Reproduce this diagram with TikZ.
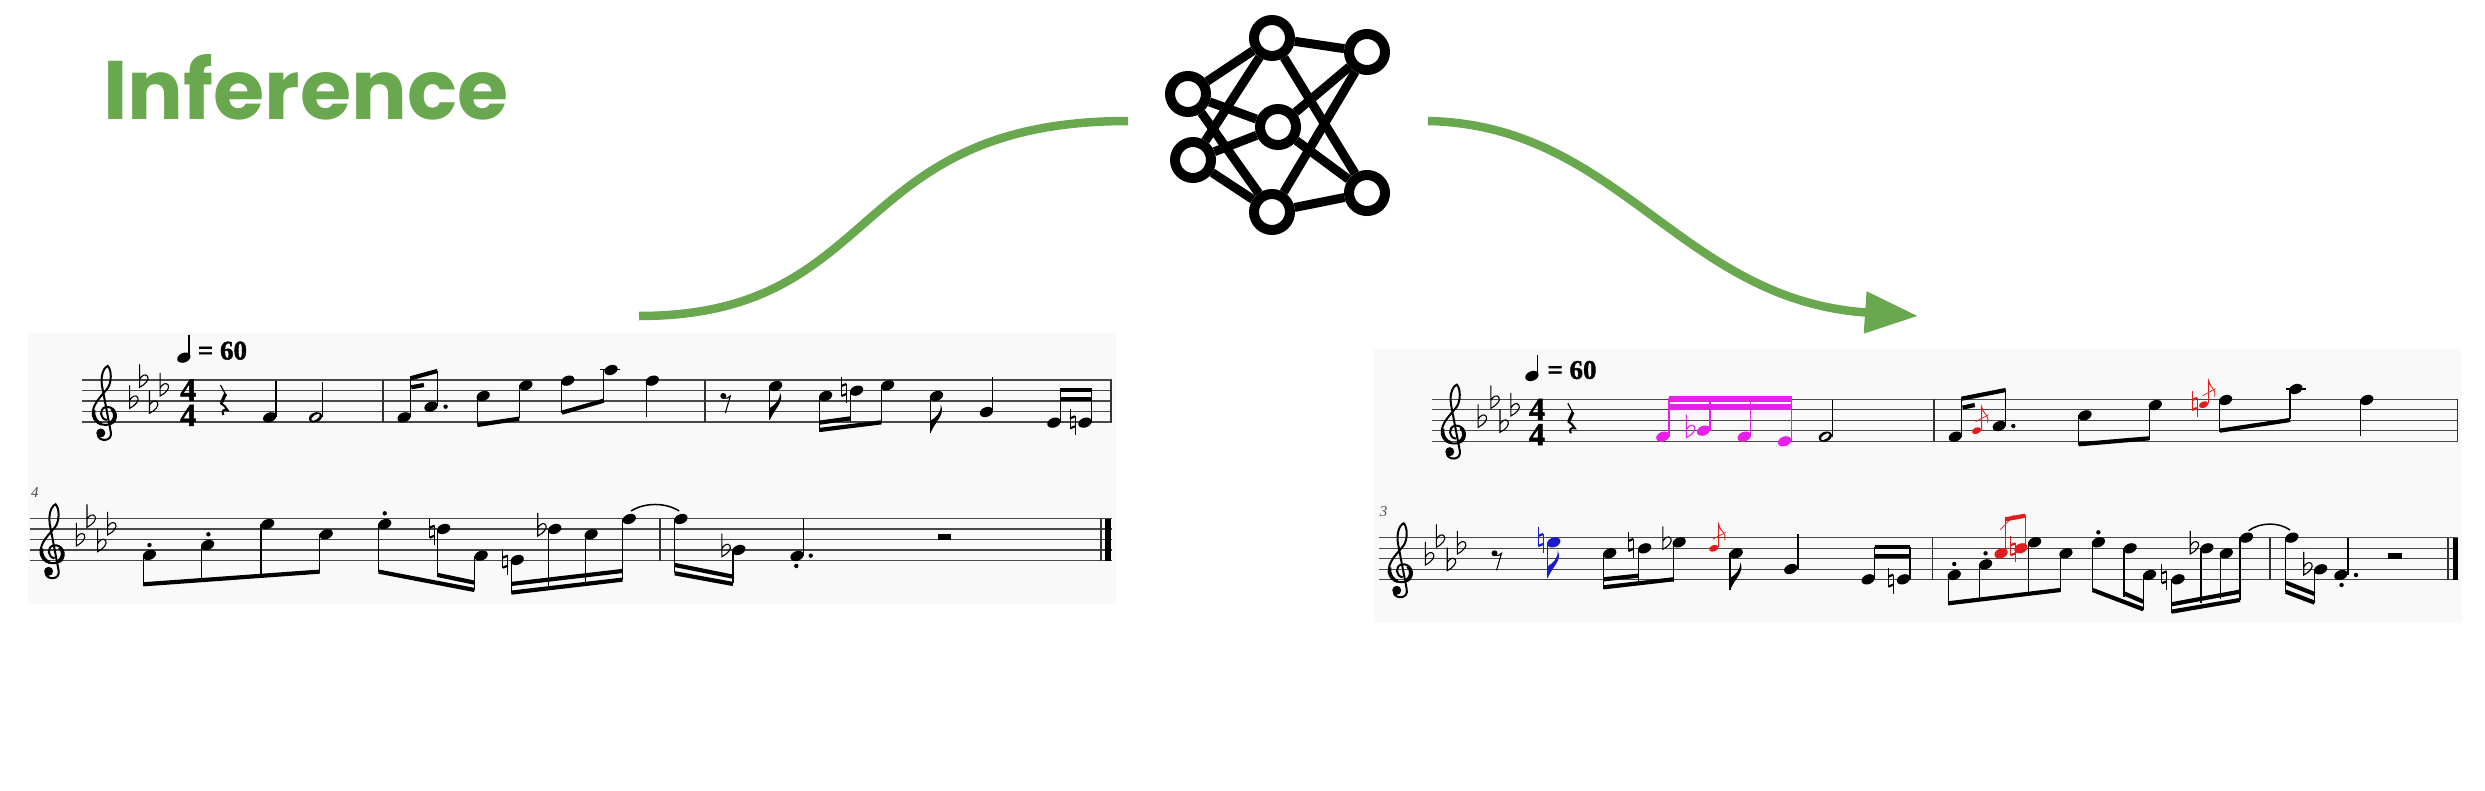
\documentclass[tikz,border=0pt]{standalone}
\usepackage{fontspec}
\usetikzlibrary{arrows.meta}
\newfontfamily\titlefont{Poppins}
\newfontfamily\scorefont{Liberation Serif}[BoldFeatures={FakeBold=1.5}]
\definecolor{inferencegreen}{HTML}{6AA84F}
\definecolor{panelgray}{HTML}{F9F9F9}
\definecolor{staffgray}{HTML}{484848}
\definecolor{gracered}{HTML}{E21C1C}
\definecolor{runmagenta}{HTML}{E81FE8}
\definecolor{fixblue}{HTML}{1A1AD0}
\tikzset{
  staffline/.style={staffgray,line width=1.25pt},
  stemline/.style={line width=1.25pt},
  barline/.style={black!80,line width=1.7pt},
  beamline/.style={line width=4.2pt},
  neuron/.style={circle,draw,fill=white,line width=10pt,minimum size=36pt,inner sep=0pt},
  synapse/.style={line width=9pt},
  tempotext/.style={anchor=west,inner sep=0pt,font=\scorefont\bfseries\fontsize{27}{27}\selectfont},
  timesig/.style={inner sep=0pt,align=center,font=\scorefont\bfseries\fontsize{32}{25.3}\selectfont},
  measurenum/.style={inner sep=0pt,text=black!70,font=\scorefont\itshape\fontsize{15}{15}\selectfont},
  flow/.style={inferencegreen,line width=8.5pt},
  crop a/.style={shift={(0,310)},x=0.3954pt,y=-0.3333pt},
  crop b/.style={shift={(600,310)},x=0.3444pt,y=-0.3333pt},
  crop c/.style={shift={(1360,340)},x=0.3635pt,y=-0.3333pt},
  crop d/.style={shift={(1920,340)},x=0.3603pt,y=-0.3333pt},
}
\newcommand{\nhead}[2][black]{\fill[#1,shift={(#2)},rotate=22] (0,0) ellipse[x radius=6.9pt,y radius=4.8pt];}
\newcommand{\hhead}[1]{\nhead{#1}\fill[panelgray,shift={(#1)},rotate=35] (0,0) ellipse[x radius=5pt,y radius=2.2pt];}
\newcommand{\heads}[2][black]{\foreach \nx/\ny in {#2} {\nhead[#1]{\nx,\ny}}}
\newcommand{\stems}[2][black]{\foreach \sx/\sa/\sb in {#2} {\draw[stemline,#1] (\sx,\sa)--(\sx,\sb);}}
\newcommand{\beams}[2][black]{\foreach \ax/\ay/\cx/\cy in {#2} {\draw[beamline,#1] (\ax,\ay)--(\cx,\cy);}}
\newcommand{\dotsat}[1]{\foreach \dx/\dy in {#1} {\fill (\dx,\dy) circle (2.2pt);}}
\newcommand{\flatsym}[2][black]{\begin{scope}[shift={(#2)},x=1pt,y=-1pt]
  \draw[#1,line width=1.1pt] (0,-23)--(0,0) .. controls (6,-3) and (10,-8) .. (8,-11) .. controls (6,-14) and (2,-12) .. (0,-8);
\end{scope}}
\newcommand{\natsym}[2][black]{\begin{scope}[shift={(#2)},x=1pt,y=-1pt]
  \draw[#1,line width=1pt] (-2.5,-13)--(-2.5,6) (2.5,-6)--(2.5,13);
  \draw[#1,line width=2.2pt] (-2.5,-4)--(2.5,-6) (-2.5,6)--(2.5,4);
\end{scope}}
\newcommand{\qrest}[1]{\begin{scope}[shift={(#1)},x=1pt,y=-1pt]
  \draw[line width=1.2pt] (-3,-15)--(3,-4);
  \draw[line width=3.2pt] (2,-6)--(-2,3);
  \draw[line width=2pt] (-3,3) .. controls (0,5) and (3,7) .. (4,10) .. controls (0,9) and (-2,11) .. (0,15);
\end{scope}}
\newcommand{\erest}[1]{\begin{scope}[shift={(#1)},x=1pt,y=-1pt]
  \fill (0,0) circle (3pt);
  \draw[line width=1.1pt] (0,2) .. controls (3,3) and (5,2) .. (7,0) -- (2,17);
\end{scope}}
\newcommand{\eflag}[2][black]{\begin{scope}[shift={(#2)},x=1pt,y=-1pt]
  \fill[#1] (0,0) -- (0,-12) .. controls (5,-15) and (11,-20) .. (10,-28) .. controls (15,-18) and (5,-12) .. (0,0);
\end{scope}}
\newcommand{\gracenote}[1]{\begin{scope}[shift={(#1)},x=1pt,y=-1pt,gracered]
  \fill[rotate=22] (0,0) ellipse[x radius=4.8pt,y radius=3.2pt];
  \draw[line width=.9pt] (5,-1)--(5,-24) .. controls (6,-17) and (13,-16) .. (11,-8);
  \draw[line width=.7pt] (-1,-9)--(12,-16);
\end{scope}}
\newcommand{\trebleclef}[1]{\begin{scope}[shift={(#1)},x=1pt,y=-1pt]
  \draw[line width=2pt] (2,8) .. controls (-5,7) and (-6,-3) .. (1,-5)
    .. controls (10,-6) and (14,4) .. (9,10) .. controls (4,15) and (-10,14) .. (-12,3)
    .. controls (-13,-8) and (-3,-16) .. (3,-24) .. controls (7,-30) and (7,-42) .. (3,-46)
    .. controls (-2,-44) and (-5,-34) .. (-2,-22) -- (6,20) .. controls (8,30) and (-6,30) .. (-7,23);
  \draw[line width=3.2pt] (7,-3) .. controls (12,2) and (10,8) .. (6,11);
  \draw[line width=3.2pt] (-11,-2) .. controls (-12,5) and (-8,11) .. (-3,12);
  \fill (-4,21) circle (4.5pt);
\end{scope}}
\newcommand{\stafflines}[3]{\foreach \k in {0,...,4} {\draw[staffline] (#1,#3+10.5*\k)--(#2,#3+10.5*\k);}}
\begin{document}
\begin{tikzpicture}[x=1pt,y=-1pt]
  \useasboundingbox (0,0) rectangle (2485,790);
  % title
  \node[inner sep=0pt,anchor=base west,text=inferencegreen,font=\titlefont\bfseries\fontsize{83}{83}\selectfont] (title) at (103,119) {Inference};

  % network
  \node[neuron] (ntop) at (1272,38) {};
  \node[neuron] (ntopr) at (1367,52) {};
  \node[neuron] (nlefta) at (1188,94) {};
  \node[neuron] (nleftb) at (1193,160) {};
  \node[neuron] (ncen) at (1278,127) {};
  \node[neuron] (nbot) at (1272,212) {};
  \node[neuron] (nbotr) at (1367,193) {};
  \foreach \from/\to in {ntop/ntopr,ntop/nlefta,ntop/nleftb,ntop/nbotr,nlefta/ncen,nlefta/nbot,
      nleftb/ncen,nleftb/nbot,ncen/ntopr,ncen/nbotr,ntopr/nbot,nbot/nbotr}
    \draw[synapse] (\from)--(\to);

  % arrows
  \coordinate (scorein) at (639,316);
  \coordinate (netin) at (1128,121);
  \coordinate (netout) at (1428,121);
  \coordinate (scoreout) at (1918,316);
  \draw[flow] (scorein) .. controls (885,316) and (845,121) .. (netin);
  \draw[flow,-{Triangle[length=53pt,width=40pt]}] (netout) .. controls (1620,125) and (1680,300) .. (scoreout);

  % panels
  \fill[panelgray] (28,333) rectangle (1116,604);
  \fill[panelgray] (1374,349) rectangle (2462,623);
  \stafflines{82}{1112}{380}
  \stafflines{30}{1112}{518.5}
  \stafflines{1432}{2458}{399.3}
  \stafflines{1379}{2458}{537.7}

  % input score, left part
  \begin{scope}[crop a]
    \nhead{465,143}\stems{478/75/140}
    \node[tempotext] (tempoin) at (500,122) {= 60};
    \trebleclef{265,306}\trebleclef{133,721}
    \foreach \fx/\fy in {328/295,353/232,378/310,405/258,193/708,220/652,247/725,272/675} {\flatsym{\fx,\fy}}
    \node[timesig] (sigin) at (476,278) {4\\4};
    \qrest{565,270}
    \node[measurenum] (barin) at (88,547) {4};
    \heads{682/322,1022/322,1090/290,1222/258,1330/226,1436/212,378/735,525/705,677/642,825/673,
      973/642,1122/657,1217/737,1308/750,1403/657,1495/673}
    \hhead{798,322}
    \stems{698/322/212,816/322/215,1038/322/205,1106/288/183,1207/258/345,1313/226/325,1421/212/308,1527/180/275,
      362/735/825,510/705/810,660/642/795,808/673/790,958/642/785,1107/657/800,1200/737/840,1293/750/850,1387/657/830,1480/673/815}
    \draw[barline] (969,210)--(969,337);
    \beams{1038/205/1106/183,1040/232/1072/225,1207/345/1313/326,1421/308/1527/272,
      362/823/808/785,958/785/1200/840,1107/795/1200/818,1293/848/1574/809,1293/822/1574/783}
    \dotsat{1127/290,378/705,527/673,973/610}
    \natsym{1093,665}\natsym{1278,755}\flatsym{1360,678}
  \end{scope}

  % input score, right part
  \begin{scope}[crop b]
    \heads{32/180,152/212,510/228,655/258,745/242,835/226,977/258,1122/306,1318/338,1408/338,
      85/627,235/627,403/720,572/738}
    \draw[stemline] (0,178)--(58,178);
    \stems{135/212/320,493/228/330,637/258/365,728/242/335,817/226/340,960/258/368,1140/306/200,1337/338/237,1428/338/237,
      65/627/810,217/627/790,386/720/820,590/738/628}
    \draw[barline] (304,210)--(304,337);
    \draw[barline] (1484,210)--(1484,337);
    \draw[barline] (174,626)--(174,752);
    \draw[barline] (1455,626)--(1455,752);
    \fill (1465,626) rectangle (1485,752);
    \erest{358,258}
    \eflag{493,330}\eflag{960,368}
    \beams{637/360/817/337,637/338/728/325,1337/240/1428/240,1337/268/1428/268,217/765/386/800,217/790/386/822}
    \natsym{708,240}\natsym{1372,337}\flatsym{354,740}
    \dotsat{612/737,570/768}
    \draw[line width=1.5pt] (90,603) .. controls (130,577) and (190,577) .. (230,603);
    \fill (982,672) rectangle (1020,689);
  \end{scope}

  % output score, left part
  \begin{scope}[crop c]
    \nhead{473,108}\stems{488/45/105}
    \node[tempotext] (tempoout) at (515,90) {= 60};
    \trebleclef{258,272}\trebleclef{112,688}
    \foreach \fx/\fy in {325/262,360/205,385/277,415/228,180/675,210/622,240/692,268/642} {\flatsym{\fx,\fy}}
    \node[timesig] (sigout) at (487,246) {4\\4};
    \qrest{580,235}
    \node[measurenum] (barout) at (65,515) {3};
    % repaired run
    \heads[runmagenta]{833/290,945/272,1057/290,1168/304}
    \stems[runmagenta]{850/290/175,963/272/175,1075/290/175,1186/304/175}
    \beams[{runmagenta,line width=5.5pt}]{850/177/1188/177,850/201/1188/201}
    \flatsym[runmagenta]{898,293}
    \hhead{1280,290}\stems{1300/290/180}
    \erest{370,640}
    \nhead[fixblue]{533,607}\stems[fixblue]{516/607/715}\eflag[fixblue]{516,715}\natsym[fixblue]{497,600}
    \heads{687/640,783/625,878/607,1035/640,1185/687,1398/718,1495/718}
    \stems{670/640/748,767/625/725,862/607/725,1018/640/750,1205/687/582,1416/718/620,1513/718/620}
    \eflag{1018,750}
    \beams{670/742/862/718,670/718/767/707,1416/622/1513/622,1416/648/1513/648}
    \natsym{745,615}\natsym{1460,722}\flatsym{833,628}
    \gracenote{973,625}
  \end{scope}

  % output score, right part
  \begin{scope}[crop d]
    \heads{98/290,220/258,458/226,653/195,848/180,1043/147,1240/180,95/705,182/673,318/607,405/640,
      495/607,583/625,637/705,716/718,796/625,850/640,906/593,1032/593,1112/688,1168/705}
    \draw[stemline] (1015,147)--(1072,147);
    \stems{116/290/172,238/258/150,440/226/315,636/195/300,832/180/275,1027/147/238,1222/180/288,
      78/705/795,165/673/783,301/607/765,390/640/752,479/607/750,566/625/772,620/705/810,698/718/818,780/625/790,834/640/778,888/593/780,
      1015/593/755,1095/688/788,1188/705/593}
    \draw[barline] (38,178)--(38,304);
    \draw[barline] (1492,178)--(1492,304);
    \draw[barline] (35,593)--(35,719);
    \draw[barline] (971,593)--(971,719);
    \draw[barline] (1465,593)--(1465,719);
    \fill (1478,593) rectangle (1493,719);
    \beams{116/176/238/150,118/203/152/195,440/313/636/295,832/272/1027/240,78/790/390/750,479/750/620/808,566/760/620/785,
      698/815/888/780,698/793/888/755,1015/755/1095/788,1015/728/1095/762}
    \dotsat{259/258,95/672,182/640,495/577,1210/705,1170/735}
    \natsym{678,712}\flatsym{750,642}\flatsym{1065,705}
    \gracenote{157,272}
    \gracenote{787,194}\natsym[gracered]{762,192}
    % red beamed pair
    \heads[gracered]{225/640,280/625}
    \stems[gracered]{237/640/535,293/625/527}
    \beams[gracered]{237/538/293/527}
    \draw[gracered,line width=.7pt] (222,570)--(262,525);
    \natsym[gracered]{258,628}
    \draw[line width=1.5pt] (912,572) .. controls (945,546) and (995,546) .. (1027,570);
    \fill (1300,640) rectangle (1338,656);
  \end{scope}
\end{tikzpicture}
\end{document}
